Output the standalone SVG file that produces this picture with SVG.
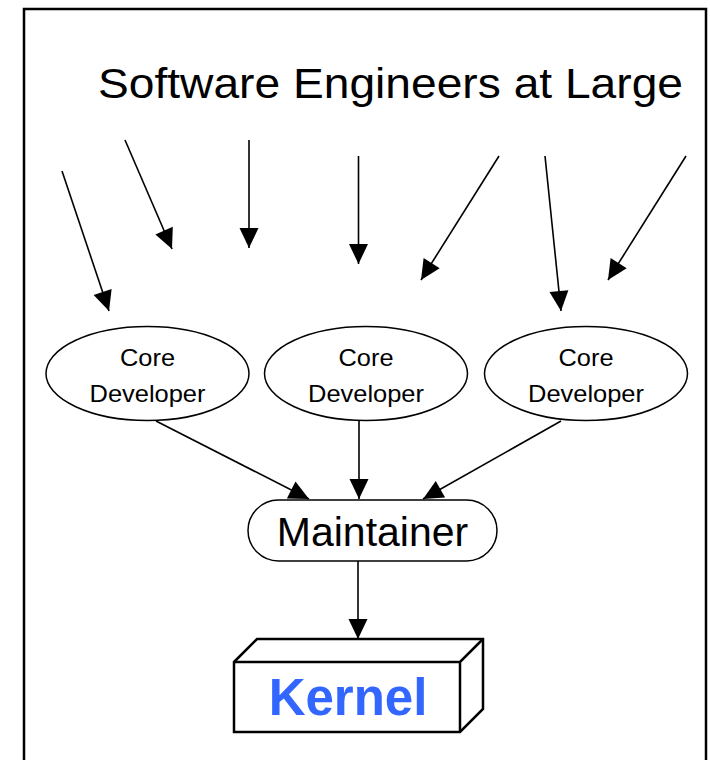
<svg xmlns="http://www.w3.org/2000/svg" width="710" height="760" viewBox="0 0 710 760">
<style>
  .t { font-family: "Liberation Sans", Arial, Helvetica, sans-serif; fill: #000; }
  .node { fill: #fff; stroke: #000; stroke-width: 1.5; }
  .edge { stroke: #000; stroke-width: 1.6; fill: none; marker-end: url(#arr); }
  .dv { font-size: 24.5px; }
</style>
<defs>
  <marker id="arr" markerUnits="userSpaceOnUse" markerWidth="22" markerHeight="22" refX="20" refY="9.5" orient="auto" overflow="visible">
    <path d="M0,0 L20,9.5 L0,19 Z" fill="#000"/>
  </marker>
</defs>
<rect x="24" y="9" width="682" height="800" fill="#fff" stroke="#000" stroke-width="2.5"/>
<g id="title">
  <text class="t" x="98" y="98" font-size="42" textLength="585" lengthAdjust="spacingAndGlyphs">Software Engineers at Large</text>
</g>
<g id="connectors">
  <line class="edge" x1="62" y1="171" x2="109" y2="311"/>
  <line class="edge" x1="125" y1="140" x2="172" y2="249"/>
  <line class="edge" x1="249" y1="140" x2="249" y2="248"/>
  <line class="edge" x1="358.5" y1="156" x2="358.5" y2="264"/>
  <line class="edge" x1="499" y1="156" x2="421" y2="280"/>
  <line class="edge" x1="545" y1="156" x2="561" y2="311"/>
  <line class="edge" x1="686" y1="156" x2="608" y2="280"/>
  <line class="edge" x1="156" y1="421" x2="309" y2="499"/>
  <line class="edge" x1="359" y1="421" x2="359" y2="499"/>
  <line class="edge" x1="561" y1="421" x2="423" y2="499"/>
  <line class="edge" x1="358" y1="561" x2="358" y2="639"/>
</g>
<g id="dev1">
  <ellipse class="node" cx="147.5" cy="373.5" rx="101.5" ry="47"/>
  <text class="t dv" x="147.5" y="366" text-anchor="middle" textLength="55" lengthAdjust="spacingAndGlyphs">Core</text>
  <text class="t dv" x="147.5" y="402" text-anchor="middle" textLength="116" lengthAdjust="spacingAndGlyphs">Developer</text>
</g>
<g id="dev2">
  <ellipse class="node" cx="366" cy="373.5" rx="101.5" ry="47"/>
  <text class="t dv" x="366" y="366" text-anchor="middle" textLength="55" lengthAdjust="spacingAndGlyphs">Core</text>
  <text class="t dv" x="366" y="402" text-anchor="middle" textLength="116" lengthAdjust="spacingAndGlyphs">Developer</text>
</g>
<g id="dev3">
  <ellipse class="node" cx="586" cy="373.5" rx="101.5" ry="47"/>
  <text class="t dv" x="586" y="366" text-anchor="middle" textLength="55" lengthAdjust="spacingAndGlyphs">Core</text>
  <text class="t dv" x="586" y="402" text-anchor="middle" textLength="116" lengthAdjust="spacingAndGlyphs">Developer</text>
</g>
<g id="maintainer">
  <rect class="node" x="248" y="500" width="249" height="61" rx="30.5" ry="30.5"/>
  <text class="t" x="372.5" y="546" font-size="41" text-anchor="middle">Maintainer</text>
</g>
<g id="kernel">
  <path d="M234,662 L257,639 L483,639 L483,709 L460,732 L234,732 Z" fill="#fff" stroke="#000" stroke-width="2.5" stroke-linejoin="miter"/>
  <path d="M234,662 L460,662 L483,639 M460,662 L460,732" fill="none" stroke="#000" stroke-width="2.5"/>
  <text x="348" y="715" font-family="Liberation Sans, Arial, Helvetica, sans-serif" font-weight="bold" font-size="51" fill="#3366ff" text-anchor="middle">Kernel</text>
</g>
</svg>
